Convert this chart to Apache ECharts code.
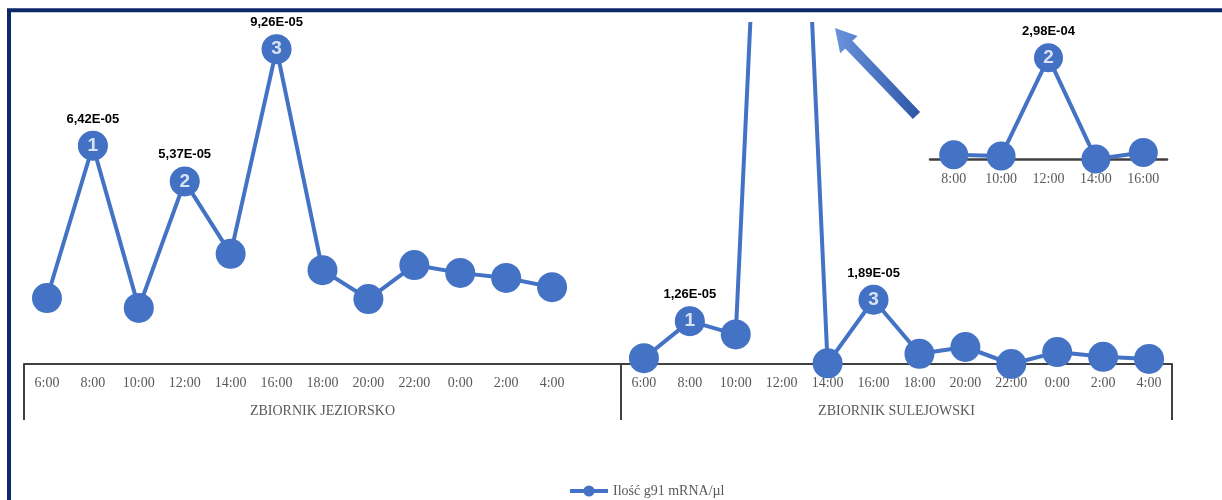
<!DOCTYPE html>
<html>
<head>
<meta charset="utf-8">
<script src="https://cdn.jsdelivr.net/npm/echarts@6/dist/echarts.min.js"></script>
<style>
html,body{margin:0;padding:0;background:#fff;}
#chart{width:1222px;height:500px;}
</style>
</head>
<body>
<div id="chart"></div>
<script>
// ---- data ----
const times = ['6:00','8:00','10:00','12:00','14:00','16:00','18:00','20:00','22:00','0:00','2:00','4:00'];
const groupNames = ['ZBIORNIK JEZIORSKO', 'ZBIORNIK SULEJOWSKI'];
const jeziorsko = [1.94e-5, 6.42e-5, 1.65e-5, 5.37e-5, 3.24e-5, 9.26e-5, 2.76e-5, 1.91e-5, 2.91e-5, 2.68e-5, 2.53e-5, 2.26e-5];
const sulejowski = [1.7e-6, 1.26e-5, 8.7e-6, 2.98e-4, 2e-7, 1.89e-5, 3.0e-6, 5.0e-6, 0, 3.5e-6, 2.1e-6, 1.5e-6];
const peaksJeziorsko = [null, 1, null, 2, null, 3, null, null, null, null, null, null];
const peaksSulejowski = [null, 1, null, 2, null, 3, null, null, null, null, null, null];
const insetStart = 1, insetEnd = 6; // 8:00 .. 16:00 of Sulejowski
const seriesName = 'Ilość g91 mRNA/µl';

// ---- derived ----
const categories = times.concat(['']).concat(times);
const values = jeziorsko.concat([null]).concat(sulejowski);
const peaks = peaksJeziorsko.concat([null]).concat(peaksSulejowski);
const groupSizes = [times.length + 1, times.length];
const groupBounds = [0, groupSizes[0], groupSizes[0] + groupSizes[1]];
const groupCenters = [groupBounds[0] + groupSizes[0] / 2, groupBounds[1] + groupSizes[1] / 2];

function fmt(v) {
  const parts = v.toExponential(2).split('e');
  const ex = parseInt(parts[1], 10);
  return parts[0].replace('.', ',') + 'E' + (ex < 0 ? '-' : '+') + String(Math.abs(ex)).padStart(2, '0');
}

const BLUE = '#4472C4';
const valueLabel = { show: true, position: 'top', distance: 5, formatter: p => fmt(p.value),
  color: '#000', fontWeight: 'bold', fontSize: 13, fontFamily: 'Liberation Sans, Arial, sans-serif' };
const numLabel = { show: true, position: 'inside', formatter: p => String(peaks[p.dataIndex] != null ? peaks[p.dataIndex] : ''),
  color: '#fff', fontWeight: 'bold', fontSize: 19, fontFamily: 'Liberation Sans, Arial, sans-serif' };

const mainData = values.map((v, i) => peaks[i] != null ? { value: v, label: valueLabel } : v);
const numData = values.map((v, i) => peaks[i] != null ? v : null);

const insetVals = sulejowski.slice(insetStart, insetEnd);
const insetPeaks = peaksSulejowski.slice(insetStart, insetEnd);
const insetTimes = times.slice(insetStart, insetEnd);
const insetData = insetVals.map((v, i) => insetPeaks[i] === 2 ? { value: v, label: valueLabel } : v);
const insetNum = insetVals.map((v, i) => insetPeaks[i] === 2 ? v : null);

const serif = 'Liberation Serif, Times New Roman, serif';

const chart = echarts.init(document.getElementById('chart'), null, { renderer: 'canvas' });
chart.setOption({
  animation: false,
  backgroundColor: '#fff',
  grid: [
    { left: 24, right: 50, top: 24, bottom: 136 },
    { left: 930, width: 237, top: 57, height: 102 }
  ],
  xAxis: [
    { type: 'category', gridIndex: 0, data: categories, boundaryGap: true,
      axisLine: { lineStyle: { color: '#404040', width: 2 } },
      axisTick: { show: false },
      axisLabel: { interval: 0, margin: 12, fontSize: 14, color: '#595959', fontFamily: serif },
      splitLine: { show: false } },
    { type: 'value', gridIndex: 0, position: 'bottom', min: 0, max: categories.length, interval: 0.5,
      axisLine: { show: false },
      splitLine: { show: false },
      axisTick: { show: true, customValues: groupBounds, length: 56, inside: false,
        lineStyle: { color: '#404040', width: 2 } },
      axisLabel: { customValues: groupCenters, margin: 40, fontSize: 14, color: '#595959', fontFamily: serif,
        formatter: v => { const k = groupCenters.indexOf(v); return k >= 0 ? groupNames[k] : ''; } } },
    { type: 'category', gridIndex: 1, data: insetTimes, boundaryGap: true,
      axisLine: { lineStyle: { color: '#404040', width: 2.5 } },
      axisTick: { show: false },
      axisLabel: { interval: 0, margin: 13, fontSize: 14, color: '#595959', fontFamily: serif },
      splitLine: { show: false } }
  ],
  yAxis: [
    { type: 'value', gridIndex: 0, min: 0, max: 1e-4, show: false, splitLine: { show: false } },
    { type: 'value', gridIndex: 1, min: 0, max: 3e-4, show: false, splitLine: { show: false } }
  ],
  legend: {
    data: [seriesName], left: 563, top: 479, itemWidth: 38, itemHeight: 14, itemGap: 4,
    lineStyle: { width: 4 },
    textStyle: { fontSize: 14, color: '#595959', fontFamily: serif }
  },
  series: [
    { name: seriesName, type: 'line', xAxisIndex: 0, yAxisIndex: 0, data: mainData,
      connectNulls: false, clip: true, symbol: 'circle', symbolSize: 30, showAllSymbol: true,
      itemStyle: { color: BLUE }, lineStyle: { color: BLUE, width: 4 }, z: 2 },
    { name: 'peaks', type: 'scatter', xAxisIndex: 0, yAxisIndex: 0, data: numData, clip: true,
      symbol: 'circle', symbolSize: 29, itemStyle: { color: BLUE }, label: numLabel, z: 3 },
    { name: 'inset', type: 'line', xAxisIndex: 2, yAxisIndex: 1, data: insetData,
      symbol: 'circle', symbolSize: 29, showAllSymbol: true, clip: false,
      itemStyle: { color: BLUE }, lineStyle: { color: BLUE, width: 4 }, z: 2 },
    { name: 'insetPeak', type: 'scatter', xAxisIndex: 2, yAxisIndex: 1, data: insetNum, clip: false,
      symbol: 'circle', symbolSize: 27, itemStyle: { color: BLUE },
      label: Object.assign({}, numLabel, { formatter: () => '2' }), z: 3 }
  ],
  graphic: [
    { type: 'rect', silent: true, z: 100,
      shape: { x: 9, y: 10.3, width: 1400, height: 700 },
      style: { fill: null, stroke: '#0C2868', lineWidth: 4 } },
    { type: 'polygon', silent: true, z: 50,
      shape: { points: [[920.1,112.1],[852.4,40.8],[857.5,35.9],[835,28],[840.1,53.3],[845.2,48.4],[912.9,118.9]] },
      style: { fill: { type: 'linear', x: 0, y: 0, x2: 1, y2: 0,
        colorStops: [{ offset: 0, color: '#6A93DC' }, { offset: 1, color: '#2D57A6' }] } } }
  ]
});
</script>
</body>
</html>
